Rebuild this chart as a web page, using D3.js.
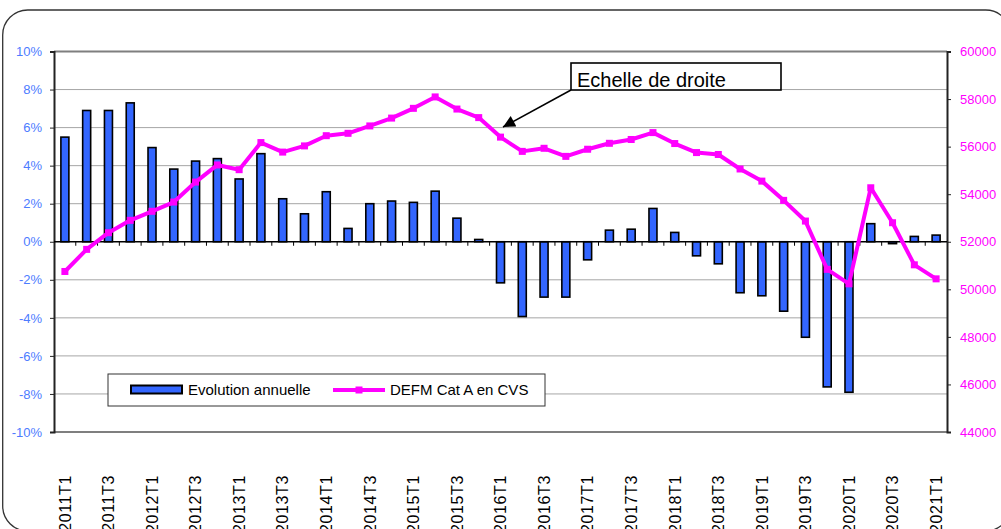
<!DOCTYPE html>
<meta charset="utf-8" />
<style>
  body {
    margin: 0;
    background: #fff;
  }
  svg text {
    font-family: "Liberation Sans", Arial, sans-serif;
  }
  .grid line {
    stroke: #a6a6a6;
    stroke-width: 1px;
  }
</style>

<svg width="1001" height="529"></svg>

<script src="https://d3js.org/d3.v7.min.js"></script>
<script>
  // quarters (categories)
  var quarters = [
    "2011T1", "2011T2", "2011T3", "2011T4",
    "2012T1", "2012T2", "2012T3", "2012T4",
    "2013T1", "2013T2", "2013T3", "2013T4",
    "2014T1", "2014T2", "2014T3", "2014T4",
    "2015T1", "2015T2", "2015T3", "2015T4",
    "2016T1", "2016T2", "2016T3", "2016T4",
    "2017T1", "2017T2", "2017T3", "2017T4",
    "2018T1", "2018T2", "2018T3", "2018T4",
    "2019T1", "2019T2", "2019T3", "2019T4",
    "2020T1", "2020T2", "2020T3", "2020T4",
    "2021T1"
  ];

  // Evolution annuelle (%), left axis
  var evolution = [
    5.5, 6.9, 6.9, 7.3, 4.95, 3.82, 4.24, 4.37, 3.3, 4.63,
    2.26, 1.47, 2.63, 0.7, 2.0, 2.14, 2.07, 2.66, 1.24, 0.12,
    -2.16, -3.93, -2.91, -2.91, -0.95, 0.61, 0.66, 1.75, 0.49, -0.74,
    -1.16, -2.68, -2.84, -3.65, -5.02, -7.63, -7.91, 0.95, -0.1, 0.28,
    0.35
  ];

  // DEFM Cat A en CVS, right axis
  var defm = [
    50750, 51680, 52380, 52900, 53280, 53670, 54510, 55230, 55030, 56170,
    55770, 56030, 56460, 56560, 56870, 57200, 57610, 58090, 57580, 57220,
    56400, 55800, 55930, 55590, 55890, 56140, 56300, 56590, 56130, 55750,
    55670, 55060, 54550, 53740, 52870, 50840, 50230, 54270, 52800, 51030,
    50440
  ];

  var leftTicks = [-10, -8, -6, -4, -2, 0, 2, 4, 6, 8, 10];
  var rightTicks = [44000, 46000, 48000, 50000, 52000, 54000, 56000, 58000, 60000];
  var seriesNames = ["Evolution annuelle", "DEFM Cat A en CVS"];

  var svg = d3.select("svg");

  var pLeft = 54, pRight = 947, pTop = 51.5, pBottom = 432;
  var blue = "#3366ff", magenta = "#ff00ff", tickBlue = "#4d7cff";

  // outer frame of the chart (cut at the bottom/right like the picture)
  svg.append("rect")
    .attr("x", 2.7).attr("y", 10)
    .attr("width", 1008).attr("height", 521)
    .attr("rx", 25).attr("ry", 25)
    .attr("fill", "none")
    .attr("stroke", "#333")
    .attr("stroke-width", 1.3);

  var x = d3.scaleBand().domain(quarters).range([pLeft, pRight]);
  var yL = d3.scaleLinear().domain([-10, 10]).range([pBottom, pTop]);
  var yR = d3.scaleLinear().domain([44000, 60000]).range([pBottom, pTop]);

  // grid lines
  svg.append("g")
    .attr("class", "grid")
    .selectAll("line")
    .data(leftTicks.filter(function (d) { return d != 0 && d != 10 && d != -10; }))
    .enter()
    .append("line")
    .attr("x1", pLeft).attr("x2", pRight)
    .attr("y1", function (d) { return yL(d); })
    .attr("y2", function (d) { return yL(d); });

  // plot border top / bottom
  svg.append("line")
    .attr("x1", pLeft).attr("x2", pRight)
    .attr("y1", pTop).attr("y2", pTop)
    .attr("stroke", "#7f7f7f").attr("stroke-width", 2);
  svg.append("line")
    .attr("x1", pLeft).attr("x2", pRight)
    .attr("y1", pBottom).attr("y2", pBottom)
    .attr("stroke", "#7f7f7f").attr("stroke-width", 2);

  // left axis
  var axL = svg.append("g")
    .attr("transform", "translate(" + pLeft + ",0)")
    .call(d3.axisLeft(yL).tickValues(leftTicks).tickSize(4).tickPadding(8)
      .tickFormat(function (d) { return d + "%"; }));
  axL.select(".domain").attr("stroke", "#222").attr("stroke-width", 2);
  axL.selectAll(".tick line").attr("stroke", "#222");
  axL.selectAll("text").attr("fill", tickBlue).style("font-size", "13px");

  // right axis
  var axR = svg.append("g")
    .attr("transform", "translate(" + pRight + ",0)")
    .call(d3.axisRight(yR).tickValues(rightTicks).tickSize(4).tickPadding(9)
      .tickFormat(function (d) { return d; }));
  axR.select(".domain").attr("stroke", "#222").attr("stroke-width", 2);
  axR.selectAll(".tick line").attr("stroke", "#222");
  axR.selectAll("text").attr("fill", magenta).style("font-size", "13px");

  // bars
  var bw = 8;
  svg.append("g")
    .selectAll("rect")
    .data(evolution)
    .enter()
    .append("rect")
    .attr("x", function (d, i) { return x(quarters[i]) + x.bandwidth() / 2 - bw / 2; })
    .attr("y", function (d) { return yL(Math.max(0, d)); })
    .attr("width", bw)
    .attr("height", function (d) { return Math.abs(yL(d) - yL(0)); })
    .attr("fill", blue)
    .attr("stroke", "#000")
    .attr("stroke-width", 1.6);

  // zero axis with ticks between categories
  var ax0 = svg.append("g")
    .attr("transform", "translate(0," + yL(0) + ")");
  ax0.append("line")
    .attr("x1", pLeft).attr("x2", pRight)
    .attr("stroke", "#000").attr("stroke-width", 1.6);
  ax0.selectAll(".t")
    .data(quarters.slice(1))
    .enter()
    .append("line")
    .attr("class", "t")
    .attr("x1", function (d) { return x(d); })
    .attr("x2", function (d) { return x(d); })
    .attr("y1", 0).attr("y2", 4)
    .attr("stroke", "#000");

  // line DEFM
  var line = d3.line()
    .x(function (d, i) { return x(quarters[i]) + x.bandwidth() / 2; })
    .y(function (d) { return yR(d); });

  svg.append("path")
    .datum(defm)
    .attr("d", line)
    .attr("fill", "none")
    .attr("stroke", magenta)
    .attr("stroke-width", 4)
    .attr("stroke-linejoin", "round");

  svg.append("g")
    .selectAll("rect")
    .data(defm)
    .enter()
    .append("rect")
    .attr("x", function (d, i) { return x(quarters[i]) + x.bandwidth() / 2 - 3.5; })
    .attr("y", function (d) { return yR(d) - 3.5; })
    .attr("width", 7).attr("height", 7)
    .attr("fill", magenta);

  // category labels, one every two quarters
  svg.append("g")
    .selectAll("text")
    .data(quarters.filter(function (d, i) { return i % 2 == 0; }))
    .enter()
    .append("text")
    .attr("transform", function (d) {
      return "translate(" + (x(d) + x.bandwidth() / 2) + ",475) rotate(-90)";
    })
    .attr("text-anchor", "end")
    .attr("dy", "0.36em")
    .style("font-size", "16px")
    .style("letter-spacing", "0.6px")
    .attr("fill", "#000")
    .text(function (d) { return d; });

  // legend
  var lg = svg.append("g");
  lg.append("rect")
    .attr("x", 108).attr("y", 374)
    .attr("width", 437).attr("height", 32)
    .attr("fill", "#fff").attr("stroke", "#333").attr("stroke-width", 1);
  lg.append("rect")
    .attr("x", 131).attr("y", 385.5)
    .attr("width", 51).attr("height", 8)
    .attr("fill", blue).attr("stroke", "#000").attr("stroke-width", 2);
  lg.append("text")
    .attr("x", 188).attr("y", 395)
    .style("font-size", "15px")
    .text(seriesNames[0]);
  lg.append("line")
    .attr("x1", 333).attr("x2", 385)
    .attr("y1", 390).attr("y2", 390)
    .attr("stroke", magenta).attr("stroke-width", 4);
  lg.append("rect")
    .attr("x", 355.5).attr("y", 386.5)
    .attr("width", 7).attr("height", 7)
    .attr("fill", magenta);
  lg.append("text")
    .attr("x", 390).attr("y", 395)
    .style("font-size", "15px")
    .text(seriesNames[1]);

  // annotation "Echelle de droite"
  svg.append("defs").append("marker")
    .attr("id", "tri")
    .attr("viewBox", "0 0 10 10")
    .attr("refX", 10).attr("refY", 5)
    .attr("markerUnits", "userSpaceOnUse")
    .attr("markerWidth", 15).attr("markerHeight", 12)
    .attr("orient", "auto")
    .append("path")
    .attr("d", "M0,0L10,5L0,10z")
    .attr("fill", "#000");

  svg.append("line")
    .attr("x1", 571).attr("y1", 90)
    .attr("x2", 503).attr("y2", 127)
    .attr("stroke", "#000").attr("stroke-width", 1.5)
    .attr("marker-end", "url(#tri)");

  svg.append("rect")
    .attr("x", 571).attr("y", 63)
    .attr("width", 210).attr("height", 27)
    .attr("fill", "#fff").attr("stroke", "#000").attr("stroke-width", 1.6);
  svg.append("text")
    .attr("x", 577).attr("y", 87)
    .style("font-size", "20px")
    .text("Echelle de droite");
</script>
